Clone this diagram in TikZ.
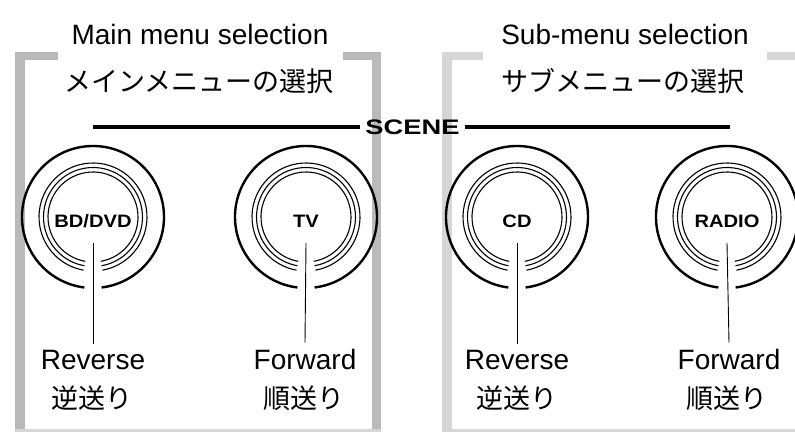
\documentclass[tikz,border=0pt]{standalone}
\usepackage{fontspec}
\usepackage{graphicx}
\setmainfont{Liberation Sans}
\newfontfamily\jpfont{Noto Sans CJK JP}
\newcommand\drawknob[3]{%
  \coordinate (#1) at (#2,-217);
  \draw[outerring] (#1) ++(-83:71) arc[start angle=-83,end angle=263,radius=71];
  \draw[innerring] (#1) ++(-80:54) arc[start angle=-80,end angle=260,radius=54];
  \draw[innerring] (#1) ++(-80:49.5) arc[start angle=-80,end angle=260,radius=49.5];
  \draw[innerring] (#1) ++(-80:45) arc[start angle=-80,end angle=260,radius=45];
  \node[btntxt] (#1t) at (#2,-221) {\scalebox{1.12}[1]{#3}};
  \coordinate (#1p) at (#2,-243);
}
\begin{document}
\begin{tikzpicture}[x=1pt,y=1pt,
  bar/.style={fill=black!27, draw=none},
  barlight/.style={fill=black!16, draw=none},
  entxt/.style={font=\fontsize{28}{30}\selectfont, inner sep=0pt},
  jptxt/.style={font=\jpfont\fontsize{27}{30}\selectfont, inner sep=0pt},
  btntxt/.style={font=\bfseries\fontsize{18}{20}\selectfont, inner sep=0pt},
  outerring/.style={line width=2.4pt},
  innerring/.style={line width=1.1pt},
  pointer/.style={line width=0.9pt},
  sceneline/.style={line width=3.4pt}]
\useasboundingbox (0,0) rectangle (795,-435);
\fill[white] (0,0) rectangle (795,-435);
% gray brackets, left panel
\fill[bar] (15,-52) rectangle (25,-431);
\fill[bar] (15,-52) rectangle (58,-60);
\fill[bar] (372,-52) rectangle (381,-431);
\fill[bar] (343,-52) rectangle (381,-60);
\fill[barlight] (15,-429) rectangle (381,-432);
% gray brackets, right panel
\fill[barlight] (442,-52) rectangle (452,-431);
\fill[barlight] (442,-52) rectangle (483,-60);
\fill[barlight] (767,-52) rectangle (795,-60);
\fill[barlight] (442,-429) rectangle (795,-432);
% titles
\node[entxt, anchor=base] (t1) at (200,-45) {Main menu selection};
\node[entxt, anchor=base] (t2) at (625,-45) {Sub-menu selection};
\node[jptxt] (j1) at (199,-81) {メインメニューの選択};
\node[jptxt] (j2) at (623,-81) {サブメニューの選択};
% scene line
\node[font=\bfseries\fontsize{21}{22}\selectfont, inner xsep=5pt, inner ysep=0pt] (scene) at (412.5,-127) {\scalebox{1.3}[1]{SCENE}};
\coordinate (sl) at (93,-127);
\coordinate (sr) at (730,-127);
\draw[sceneline] (sl) -- (scene.west);
\draw[sceneline] (scene.east) -- (sr);
% knobs
\drawknob{k1}{93}{BD/DVD}
\drawknob{k2}{306}{TV}
\drawknob{k3}{517}{CD}
\drawknob{k4}{727}{RADIO}
% labels
\node[entxt, anchor=base] (r1) at (93,-370) {Reverse};
\node[entxt, anchor=base] (f1) at (305,-370) {Forward};
\node[entxt, anchor=base] (r2) at (517,-370) {Reverse};
\node[entxt, anchor=base] (f2) at (729,-370) {Forward};
\node[jptxt] (rj1) at (92,-398) {逆送り};
\node[jptxt] (fj1) at (304,-398) {順送り};
\node[jptxt] (rj2) at (517,-398) {逆送り};
\node[jptxt] (fj2) at (727,-398) {順送り};
% pointers
\draw[pointer] (k1p) -- ([yshift=7pt]r1.north);
\draw[pointer] (k2p) -- ([yshift=7pt]f1.north);
\draw[pointer] (k3p) -- ([yshift=7pt]r2.north);
\draw[pointer] (k4p) -- ([yshift=7pt]f2.north);
\end{tikzpicture}
\end{document}
